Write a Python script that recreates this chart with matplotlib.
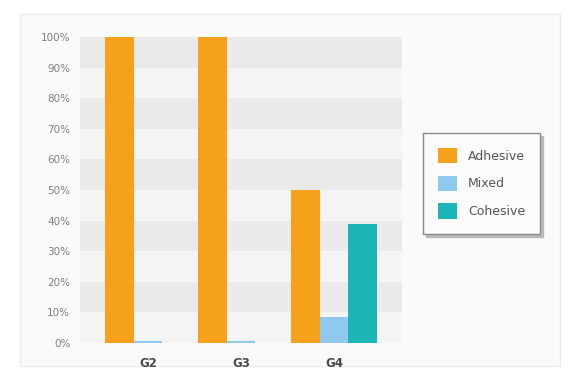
import numpy as np
import matplotlib.pyplot as plt
from matplotlib.patches import FancyBboxPatch

# data
groups = ['G2', 'G3', 'G4']
adhesive = [1.00, 1.00, 0.50]
mixed = [0.005, 0.005, 0.085]
cohesive = [0.0, 0.0, 0.39]
series = ['Adhesive', 'Mixed', 'Cohesive']
colors = ['#F5A11C', '#8FCAEE', '#1CB5B5']
yticks = [0, 0.1, 0.2, 0.3, 0.4, 0.5, 0.6, 0.7, 0.8, 0.9, 1.0]

fig = plt.figure(figsize=(5.69, 3.71), dpi=100)
fig.patch.set_facecolor('white')

# faint outer panel
panel = FancyBboxPatch((20 / 569, 5 / 371), 540 / 569, 352 / 371,
                       boxstyle='square,pad=0', transform=fig.transFigure,
                       facecolor='#fafafa', edgecolor='#ececec', lw=1, zorder=-5)
fig.patches.append(panel)

ax = fig.add_axes([80 / 569, 1 - 343 / 371, 322 / 569, 306 / 371])
ax.set_facecolor('#f4f4f4')
for k in range(1, 10, 2):
    ax.axhspan(yticks[k], yticks[k + 1], color='#eaeaea', lw=0, zorder=0)

x = np.arange(len(groups))
w = 0.31
for i, (vals, name) in enumerate(zip([adhesive, mixed, cohesive], series)):
    ax.bar(x + (i - 1) * w, vals, w, color=colors[i], label=name, zorder=2)

ax.set_xlim(-0.73, 2.73)
ax.set_ylim(0, 1.0)
ax.set_yticks(yticks)
ax.set_yticklabels([f'{int(round(v * 100))}%' for v in yticks],
                   fontsize=7.5, color='#808080')
ax.set_xticks(x)
ax.set_xticklabels(groups, fontsize=8.5, fontweight='bold', color='#4a4a4a')
ax.tick_params(axis='y', length=0, pad=7)
ax.tick_params(axis='x', length=0, pad=10)
for s in ax.spines.values():
    s.set_visible(False)

leg = fig.legend(loc='upper left', bbox_to_anchor=(423 / 569, 1 - 133 / 371),
                 frameon=True, fancybox=False, shadow={'color': '#b0b0b0', 'alpha': 0.8},
                 fontsize=9,
                 handlelength=1.5, handleheight=1.5, handletextpad=0.9,
                 labelspacing=1.0, borderpad=1.2, borderaxespad=0,
                 labelcolor='#555555')
leg.get_frame().set_edgecolor('#8a8a8a')
leg.get_frame().set_facecolor('#fbfbfb')

fig.savefig('out.png', dpi=100)
